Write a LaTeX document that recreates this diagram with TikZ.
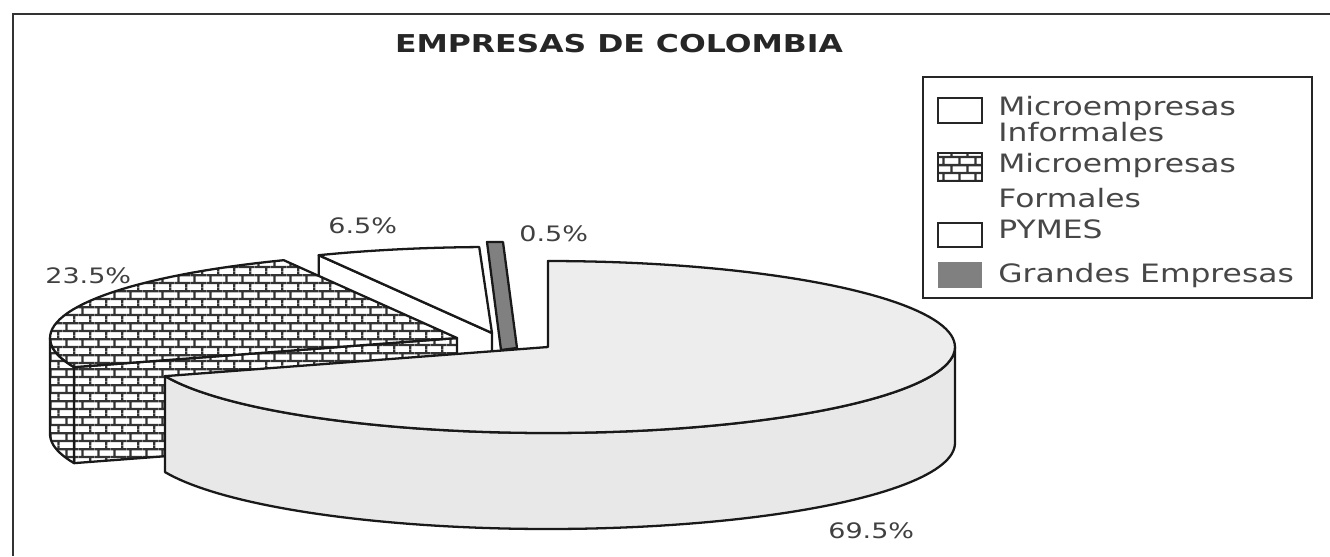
\documentclass[tikz,border=0pt]{standalone}
\usepackage{fontspec}
\usetikzlibrary{patterns}
\newfontfamily\lgfont[FakeStretch=1.24]{DejaVu Sans}
\newfontfamily\lbfont[FakeStretch=1.27]{DejaVu Sans}
\newfontfamily\titlefnt[FakeStretch=1.28]{DejaVu Sans}
\pgfdeclarepatternformonly{mybricks}{\pgfpoint{0pt}{0pt}}{\pgfpoint{9pt}{9pt}}{\pgfpoint{9pt}{9pt}}{%
  \pgfsetlinewidth{1.3pt}%
  \pgfpathmoveto{\pgfpoint{0pt}{2.25pt}}\pgfpathlineto{\pgfpoint{9pt}{2.25pt}}%
  \pgfpathmoveto{\pgfpoint{0pt}{6.75pt}}\pgfpathlineto{\pgfpoint{9pt}{6.75pt}}%
  \pgfpathmoveto{\pgfpoint{2pt}{2.25pt}}\pgfpathlineto{\pgfpoint{2pt}{6.75pt}}%
  \pgfpathmoveto{\pgfpoint{6.5pt}{6.75pt}}\pgfpathlineto{\pgfpoint{6.5pt}{9pt}}%
  \pgfpathmoveto{\pgfpoint{6.5pt}{0pt}}\pgfpathlineto{\pgfpoint{6.5pt}{2.25pt}}%
  \pgfusepath{stroke}%
}
\tikzset{
  pie/.style={draw=black!90, line width=1.3pt, line join=round},
  bigtop/.style={pie, fill=black!7},
  bigside/.style={pie, fill=black!9},
  whitepie/.style={pie, fill=white},
  darkpie/.style={pie, fill=black!50},
  brickpie/.style={pie, preaction={fill=white}, pattern=mybricks, pattern color=black!80},
  lbl/.style={font=\lbfont\fontsize{12.1}{14}\selectfont, text=black!75, inner sep=0pt, anchor=base west},
  lgd/.style={font=\lgfont\fontsize{14.4}{17}\selectfont, text=black!72, inner sep=0pt, anchor=base west},
  swatch/.style={draw=black!85, line width=1pt}
}
\begin{document}
\begin{tikzpicture}[x=0.02cm,y=-0.02cm]
\useasboundingbox (0,0) rectangle (1330,556);
% frame
\draw[line width=1.2pt, black!80] (1330,14) -- (13,14) -- (13,556);
% title
\node[font=\titlefnt\bfseries\fontsize{14}{16}\selectfont, text=black!85, inner sep=0pt, anchor=base] (title) at (619,52) {EMPRESAS DE COLOMBIA};

% PYMES (6.5%)
\draw[whitepie] ({492+407*cos(115.2)},{333-86*sin(115.2)}) -- (492,333) -- (492,429) -- ({492+407*cos(115.2)},{429-86*sin(115.2)}) -- cycle;
\draw[whitepie] (492,333) -- plot[domain=91.8:115.2,samples=20] ({492+407*cos(\x)},{333-86*sin(\x)}) -- cycle;
% Grandes Empresas (0.5%)
\draw[darkpie] (487,242) -- (503,242) -- (517,348) -- (501,350) -- cycle;
% Microempresas Formales (23.5%)
\draw[brickpie] ({457+407*cos(199.8)},{338-86*sin(199.8)}) -- (457,338) -- (457,434) -- ({457+407*cos(199.8)},{434-86*sin(199.8)}) -- cycle;
\draw[brickpie] plot[domain=180:199.8,samples=12] ({457+407*cos(\x)},{338-86*sin(\x)}) -- plot[domain=199.8:180,samples=12] ({457+407*cos(\x)},{434-86*sin(\x)}) -- cycle;
\draw[brickpie] (457,338) -- plot[domain=115.2:199.8,samples=40] ({457+407*cos(\x)},{338-86*sin(\x)}) -- cycle;
% Microempresas Informales (69.5%)
\draw[bigside] plot[domain=-160.2:0,samples=90] ({548+407*cos(\x)},{347-86*sin(\x)}) -- plot[domain=0:-160.2,samples=90] ({548+407*cos(\x)},{443-86*sin(\x)}) -- cycle;
\draw[bigtop] (548,347) -- plot[domain=90:-160.2,samples=120] ({548+407*cos(\x)},{347-86*sin(\x)}) -- cycle;

% percentage labels
\node[lbl] (l65) at (328,233) {6.5\%};
\node[lbl] (l05) at (519,241) {0.5\%};
\node[lbl] (l235) at (45,283) {23.5\%};
\node[lbl] (l695) at (828,538) {69.5\%};

% legend
\draw[line width=1pt, black!85] (923,77) rectangle (1312,298);
\draw[swatch, fill=white] (938,98) rectangle (982,123);
\draw[swatch, preaction={fill=white}, pattern=mybricks, pattern color=black!80] (938,153) rectangle (982,181);
\draw[swatch, fill=white] (938,223) rectangle (982,247);
\fill[black!50] (938,262) rectangle (982,288);
\node[lgd] (g1a) at (998,115) {Microempresas};
\node[lgd] (g1b) at (998,141) {Informales};
\node[lgd] (g2a) at (998,172) {Microempresas};
\node[lgd] (g2b) at (998,207) {Formales};
\node[lgd] (g3) at (998,238) {PYMES};
\node[lgd] (g4) at (998,282) {Grandes Empresas};
\end{tikzpicture}
\end{document}
